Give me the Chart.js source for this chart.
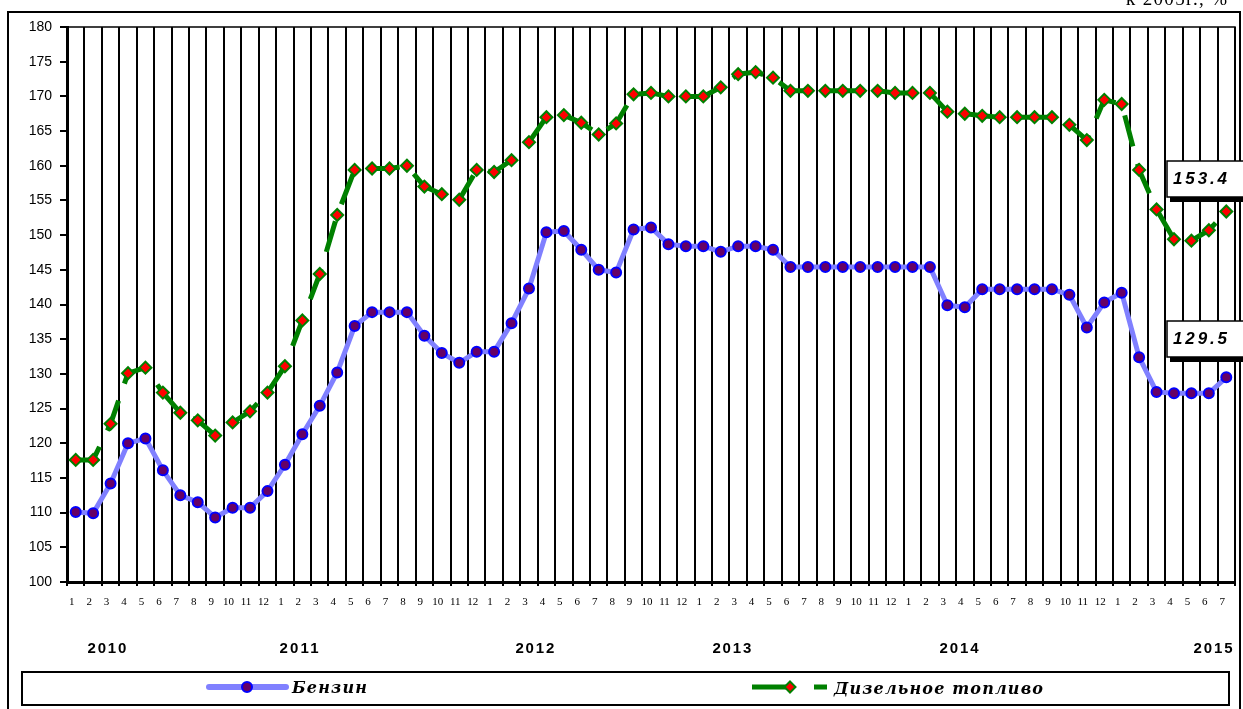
<!DOCTYPE html>
<html><head><meta charset="utf-8">
<script src="https://cdn.jsdelivr.net/npm/chart.js@4.4.1/dist/chart.umd.min.js"></script>
<style>html,body{margin:0;padding:0;background:#fff;overflow:hidden}canvas{display:block}</style>
</head><body>
<canvas id="c" width="1243" height="709"></canvas>
<script>
// ---- data ----
const months = [
  '1','2','3','4','5','6','7','8','9','10','11','12',
  '1','2','3','4','5','6','7','8','9','10','11','12',
  '1','2','3','4','5','6','7','8','9','10','11','12',
  '1','2','3','4','5','6','7','8','9','10','11','12',
  '1','2','3','4','5','6','7','8','9','10','11','12',
  '1','2','3','4','5','6','7'
];
const years = ['2010','2011','2012','2013','2014','2015'];
const petrol = [
  110.1,109.9,114.2,120.0,120.7,116.1,112.5,111.5,109.3,110.7,110.7,113.1,
  116.9,121.3,125.4,130.2,136.9,138.9,138.9,138.9,135.5,133.0,131.6,133.2,
  133.2,137.3,142.3,150.4,150.6,147.9,145.0,144.6,150.8,151.1,148.7,148.4,
  148.4,147.6,148.4,148.4,147.9,145.4,145.4,145.4,145.4,145.4,145.4,145.4,
  145.4,145.4,139.9,139.6,142.2,142.2,142.2,142.2,142.2,141.4,136.7,140.3,
  141.7,132.4,127.4,127.2,127.2,127.2,129.5
];
const diesel = [
  117.6,117.6,122.8,130.1,130.9,127.3,124.4,123.3,121.1,123.0,124.6,127.3,
  131.1,137.7,144.4,152.9,159.4,159.6,159.6,160.0,157.0,155.9,155.1,159.4,
  159.1,160.8,163.4,167.0,167.3,166.2,164.5,166.1,170.3,170.5,170.0,170.0,
  170.0,171.3,173.2,173.5,172.7,170.8,170.8,170.8,170.8,170.8,170.8,170.5,
  170.5,170.5,167.8,167.5,167.2,167.0,167.0,167.0,167.0,165.9,163.7,169.5,
  168.9,159.4,153.7,149.4,149.2,150.7,153.4
];
const seriesNames = ['Бензин','Дизельное топливо'];
const unitNote = 'к 2005г., %';

// ---- layout (positions only) ----
const yearAt = [1.79, 12.81, 26.34, 37.64, 50.67, 65.24];

function fitText(ctx, text, x, y, width, font, align) {
  ctx.save();
  ctx.font = font;
  ctx.letterSpacing = '0px';
  const w = ctx.measureText(text).width;
  const n = [...text].length;
  const s = n > 1 ? (width - w) / (n - 1) : 0;
  ctx.letterSpacing = s + 'px';
  ctx.textAlign = 'left';
  let x0 = x;
  if (align === 'center') x0 = x - width / 2;
  else if (align === 'right') x0 = x - width;
  ctx.fillText(text, x0, y);
  ctx.restore();
}

function diamond(ctx, x, y, r, fill, stroke, lw) {
  ctx.beginPath();
  ctx.moveTo(x, y - r); ctx.lineTo(x + r, y); ctx.lineTo(x, y + r); ctx.lineTo(x - r, y); ctx.closePath();
  ctx.fillStyle = fill; ctx.fill();
  ctx.lineWidth = lw; ctx.strokeStyle = stroke; ctx.stroke();
}

const decor = {
  id: 'decor',
  beforeDraw(chart) {
    const ctx = chart.ctx;
    ctx.save();
    ctx.fillStyle = '#fff';
    ctx.fillRect(0, 0, chart.width, chart.height);
    ctx.strokeStyle = '#000';
    ctx.lineWidth = 2;
    ctx.strokeRect(8, 12, 1232, 710);
    ctx.restore();
  },
  afterDraw(chart) {
    const ctx = chart.ctx;
    const a = chart.chartArea;
    const xs = chart.scales.x;
    ctx.save();
    ctx.strokeStyle = '#000';
    ctx.lineWidth = 1.5;
    ctx.beginPath();
    ctx.moveTo(a.left, a.top); ctx.lineTo(a.right, a.top); ctx.lineTo(a.right, a.bottom);
    ctx.stroke();

    ctx.fillStyle = '#000';
    ctx.textBaseline = 'alphabetic';
    fitText(ctx, unitNote, 1227, 5, 101, '19px "Liberation Serif"', 'right');

    ctx.textBaseline = 'middle';
    years.forEach((yr, i) => {
      const px = xs.getPixelForValue(yearAt[i]);
      fitText(ctx, yr, px, 649, 39, 'bold 15px "Liberation Sans"', 'center');
    });

    ctx.lineWidth = 2;
    ctx.strokeStyle = '#000';
    ctx.strokeRect(22, 672, 1207, 33);
    ctx.lineCap = 'round';
    ctx.strokeStyle = '#8080FF';
    ctx.lineWidth = 6;
    ctx.beginPath(); ctx.moveTo(209, 687); ctx.lineTo(286, 687); ctx.stroke();
    ctx.lineCap = 'butt';
    ctx.beginPath(); ctx.arc(247, 687, 5, 0, Math.PI * 2);
    ctx.fillStyle = '#660066'; ctx.fill();
    ctx.lineWidth = 2; ctx.strokeStyle = '#0000FF'; ctx.stroke();
    ctx.fillStyle = '#000';
    ctx.textBaseline = 'alphabetic';
    fitText(ctx, seriesNames[0], 292, 693, 75, 'bold italic 16px "DejaVu Serif"', 'left');
    ctx.strokeStyle = '#008000';
    ctx.lineWidth = 5;
    ctx.setLineDash([36, 26]);
    ctx.beginPath(); ctx.moveTo(752, 687); ctx.lineTo(827, 687); ctx.stroke();
    ctx.setLineDash([]);
    diamond(ctx, 790, 687, 5.5, '#FF0000', '#008000', 2);
    ctx.fillStyle = '#000';
    fitText(ctx, seriesNames[1], 834, 694, 209, 'bold italic 16px "DejaVu Serif"', 'left');

    const boxes = [
      {text: diesel[diesel.length - 1].toFixed(1), top: 161},
      {text: petrol[petrol.length - 1].toFixed(1), top: 321}
    ];
    boxes.forEach(b => {
      ctx.fillStyle = '#000';
      ctx.fillRect(1170, b.top + 36, 80, 5);
      ctx.fillStyle = '#fff';
      ctx.fillRect(1167, b.top, 80, 36);
      ctx.lineWidth = 1.5;
      ctx.strokeStyle = '#000';
      ctx.strokeRect(1167, b.top, 80, 36);
      ctx.fillStyle = '#000';
      ctx.textBaseline = 'middle';
      fitText(ctx, b.text, 1200, b.top + 18, 54, 'bold italic 17px "Liberation Sans"', 'center');
    });
    ctx.restore();
  }
};

new Chart(document.getElementById('c'), {
  type: 'line',
  data: {
    labels: months,
    datasets: [
      {
        label: seriesNames[0],
        data: petrol,
        borderColor: '#8080FF',
        borderWidth: 5,
        pointStyle: 'circle',
        pointRadius: 5,
        pointBackgroundColor: '#660066',
        pointBorderColor: '#0000FF',
        pointBorderWidth: 2,
        tension: 0,
        order: 2
      },
      {
        label: seriesNames[1],
        data: diesel,
        borderColor: '#008000',
        borderWidth: 5,
        borderDash: [32, 18],
        pointStyle: 'rectRot',
        pointRadius: 6,
        pointBackgroundColor: '#FF0000',
        pointBorderColor: '#008000',
        pointBorderWidth: 2,
        tension: 0,
        order: 1
      }
    ]
  },
  options: {
    responsive: false,
    animation: false,
    devicePixelRatio: 1,
    layout: {padding: {left: 0, top: 27, right: 3, bottom: 87}},
    plugins: {legend: {display: false}, tooltip: {enabled: false}},
    scales: {
      x: {
        type: 'category',
        offset: true,
        afterFit(s) { s.height = 40; },
        grid: {offset: true, color: '#000', lineWidth: 2, tickLength: 4, tickColor: '#000'},
        border: {color: '#000', width: 3},
        ticks: {
          autoSkip: false, maxRotation: 0, minRotation: 0, padding: 10, labelOffset: -4,
          color: '#000', font: {family: '"Liberation Serif"', size: 11}
        }
      },
      y: {
        min: 100, max: 180,
        afterFit(s) { s.width = 67; },
        grid: {drawOnChartArea: false, color: '#000', lineWidth: 2, tickLength: 7},
        border: {color: '#000', width: 3},
        ticks: {stepSize: 5, padding: 8, color: '#000', font: {family: '"Liberation Sans"', size: 14}}
      }
    }
  },
  plugins: [decor]
});
</script>
</body></html>
